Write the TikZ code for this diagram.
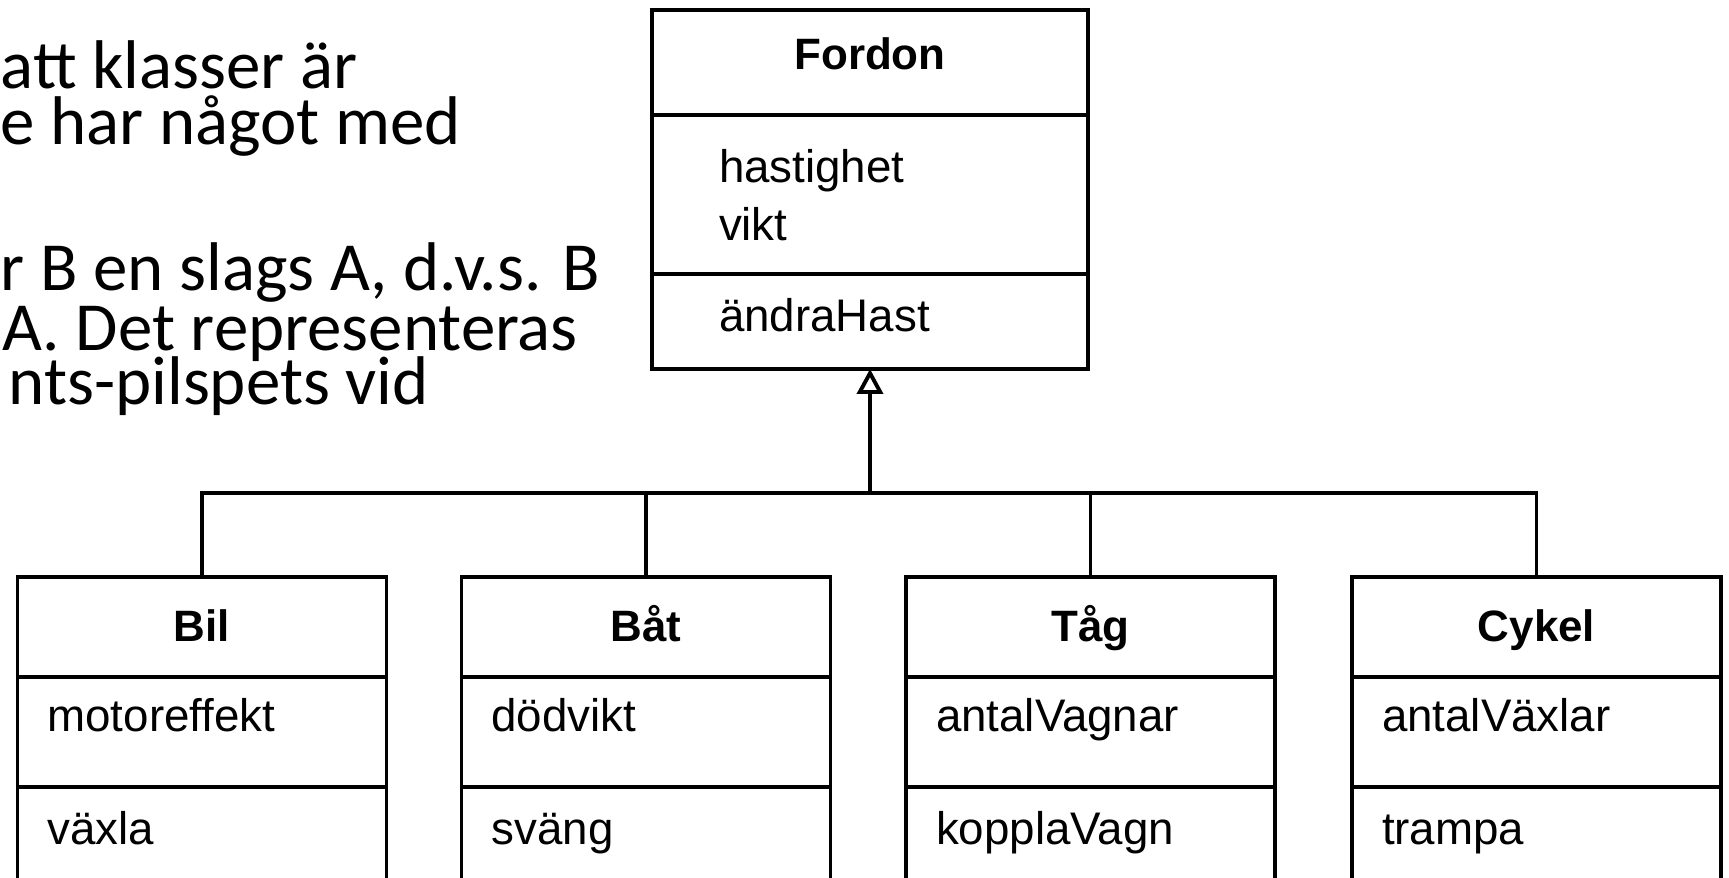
\documentclass[tikz,border=0pt]{standalone}
\usepackage{fontspec}
\setmainfont{Liberation Sans}
\newfontfamily\slidefont{Carlito}
\usetikzlibrary{positioning,arrows.meta}

\tikzset{
  ram/.style={draw, line width=1.1pt, inner sep=0pt, outer sep=0pt},
  rubrik/.style={ram, anchor=north, font=\bfseries\fontsize{12.5}{15}\selectfont},
  falt/.style={ram, font=\fontsize{13}{16.4}\selectfont, align=left},
  smal/.style={text width=3.09cm, inner xsep=.30cm},
  brodtext/.style={anchor=base west, inner sep=0pt, font=\slidefont\fontsize{19.6}{16}\selectfont},
  arv/.style={line width=1.1pt},
}

\begin{document}
\begin{tikzpicture}
\clip (0,0) rectangle (17.29,8.78);

% text kvar fran bilden till vanster
\node[brodtext] (rad1) at (0,7.89) {att klasser är};
\node[brodtext] (rad2) at (0,7.33) {e har något med};
\node[brodtext] (rad3) at (0,5.87) {r B en slags A, d.v.s. B};
\node[brodtext] (rad4) at (0.02,5.27) {A. Det representeras};
\node[brodtext] (rad5) at (0.08,4.73) {nts-pilspets vid};

% superklassen
\node[rubrik, minimum width=4.36cm, text height=.60cm, text depth=.45cm] (fordon) at (8.70,8.68) {Fordon};
\node[falt, text width=3.02cm, inner xsep=.67cm, text height=.68cm, text depth=.91cm, below=0pt of fordon] (fordonattr) {hastighet\\vikt};
\node[falt, text width=3.02cm, inner xsep=.67cm, text height=.58cm, text depth=.37cm, below=0pt of fordonattr] (fordonops) {ändraHast};

% subklasserna
\node[rubrik, minimum width=3.69cm, text height=.65cm, text depth=.35cm] (bil) at (2.02,3.01) {Bil};
\node[falt, smal, text height=.55cm, text depth=.55cm, below=0pt of bil] (bilattr) {motoreffekt};
\node[falt, smal, text height=.58cm, text depth=.80cm, below=0pt of bilattr] (bilops) {växla};

\node[rubrik, minimum width=3.69cm, text height=.65cm, text depth=.35cm] (bat) at (6.46,3.01) {Båt};
\node[falt, smal, text height=.55cm, text depth=.55cm, below=0pt of bat] (batattr) {dödvikt};
\node[falt, smal, text height=.58cm, text depth=.80cm, below=0pt of batattr] (batops) {sväng};

\node[rubrik, minimum width=3.69cm, text height=.65cm, text depth=.35cm] (tag) at (10.905,3.01) {Tåg};
\node[falt, smal, text height=.55cm, text depth=.55cm, below=0pt of tag] (tagattr) {antalVagnar};
\node[falt, smal, text height=.58cm, text depth=.80cm, below=0pt of tagattr] (tagops) {kopplaVagn};

\node[rubrik, minimum width=3.69cm, text height=.65cm, text depth=.35cm] (cykel) at (15.365,3.01) {Cykel};
\node[falt, smal, text height=.55cm, text depth=.55cm, below=0pt of cykel] (cykelattr) {antalVäxlar};
\node[falt, smal, text height=.58cm, text depth=.80cm, below=0pt of cykelattr] (cykelops) {trampa};

% arv
\coordinate (gren) at (8.70,3.85);
\draw[arv] (bil.north) |- (gren) -| (cykel.north);
\draw[arv] (bat.north) -- (bat.north |- gren);
\draw[arv] (tag.north) -- (tag.north |- gren);
\draw[arv, -{Triangle[open, length=.25cm, width=.26cm]}] (gren) -- (fordonops.south);
\end{tikzpicture}
\end{document}
